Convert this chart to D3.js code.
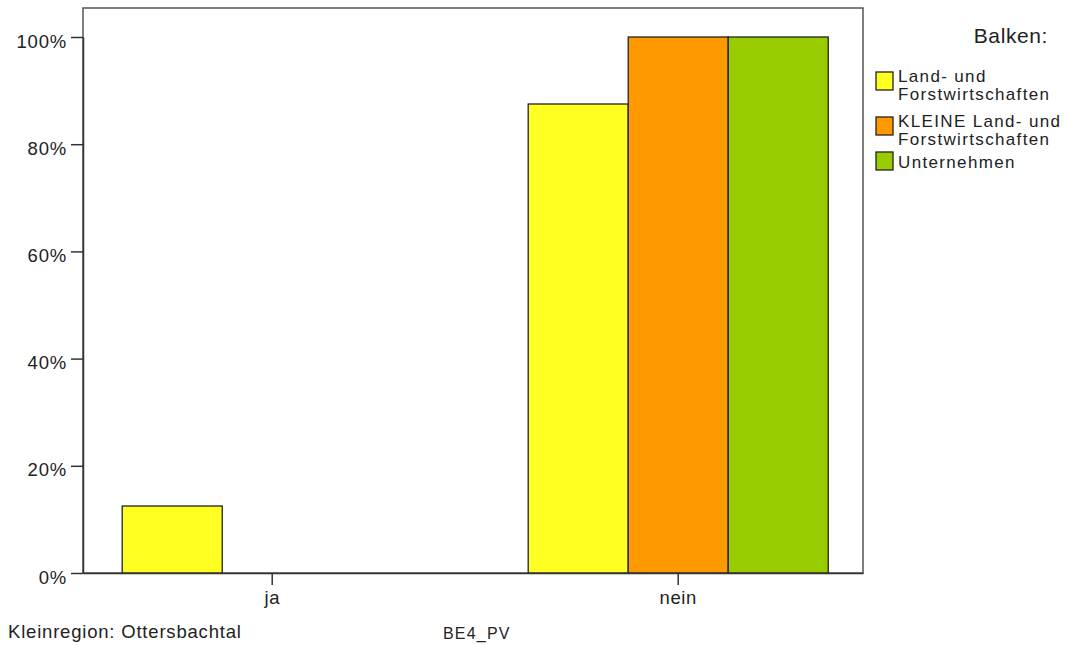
<!DOCTYPE html>
<html><head><meta charset="utf-8">
<script src="https://cdn.jsdelivr.net/npm/d3@7"></script>
<style>body{margin:0;background:#fff}svg{display:block;font-family:"Liberation Sans",Arial,sans-serif}</style>
</head><body><svg id="c" width="1067" height="645"></svg>
<script>
const categories = ["ja", "nein"];
const seriesNames = ["Land- und\nForstwirtschaften", "KLEINE Land- und\nForstwirtschaften", "Unternehmen"];
const seriesColors = ["#ffff22", "#ff9900", "#99cc00"];
const valuesLandForst = [12.5, 87.5];
const valuesKleine = [0, 100];
const valuesUnternehmen = [0, 100];
const yTicks = [0, 20, 40, 60, 80, 100];
const series = [valuesLandForst, valuesKleine, valuesUnternehmen];

const svg = d3.select("#c");
const L = 83, R = 863, T = 8, B = 573;
const y = d3.scaleLinear().domain([0, 100]).range([B, 37]);
const x = d3.scaleBand().domain(categories).range([L, R]).paddingInner(0.261).paddingOuter(0.0911).align(0.53);
const xs = d3.scaleBand().domain(d3.range(series.length)).range([0, x.bandwidth()]);

// frame
svg.append("rect").attr("x", L).attr("y", T).attr("width", R - L).attr("height", B - T)
  .attr("fill", "none").attr("stroke", "#555").attr("stroke-width", 1.5);

// bars
categories.forEach((c, ci) => {
  series.forEach((s, si) => {
    svg.append("rect")
      .attr("x", x(c) + xs(si)).attr("width", xs.bandwidth())
      .attr("y", y(s[ci])).attr("height", y(0) - y(s[ci]))
      .attr("fill", seriesColors[si]).attr("stroke", "#222").attr("stroke-width", 1.3);
  });
});

const FONT = "Liberation Sans, Arial, sans-serif";
// y axis
const yAxis = d3.axisLeft(y).tickValues(yTicks).tickFormat(d => d + "%").tickSize(12).tickSizeOuter(0).tickPadding(4);
const ya = svg.append("g").attr("transform", `translate(${L},0)`).call(yAxis);
ya.select(".domain").attr("stroke", "#333").attr("stroke-width", 1.5);
ya.selectAll(".tick line").attr("stroke", "#333").attr("stroke-width", 1.5);
ya.selectAll(".tick text").attr("font-size", 18.5).attr("fill", "#222").attr("dy", "0.55em")
  .attr("font-family", FONT).attr("letter-spacing", 0.8);

// x axis
const xAxis = d3.axisBottom(x).tickSize(12).tickSizeOuter(0).tickPadding(6);
const xa = svg.append("g").attr("transform", `translate(0,${B})`).call(xAxis);
xa.select(".domain").attr("stroke", "#333").attr("stroke-width", 1.5);
xa.selectAll(".tick line").attr("stroke", "#333").attr("stroke-width", 1.5);
xa.selectAll(".tick text").attr("font-size", 18.5).attr("fill", "#222")
  .attr("font-family", FONT).attr("letter-spacing", 0.6);

// footers
svg.append("text").attr("x", 8).attr("y", 638).attr("font-size", 18.5).attr("fill", "#222")
  .attr("letter-spacing", 0.8).text("Kleinregion: Ottersbachtal");
svg.append("text").attr("x", 443).attr("y", 639).attr("font-size", 16).attr("fill", "#222")
  .attr("letter-spacing", 1.2).text("BE4_PV");

// legend
svg.append("text").attr("x", 1048).attr("y", 43).attr("text-anchor", "end").attr("font-size", 21)
  .attr("fill", "#222").attr("letter-spacing", 0.6).text("Balken:");
const swY = [72, 117, 152];
seriesNames.forEach((n, i) => {
  svg.append("rect").attr("x", 876).attr("y", swY[i]).attr("width", 17).attr("height", 18)
    .attr("fill", seriesColors[i]).attr("stroke", "#222").attr("stroke-width", 1.3);
  const lines = n.split("\n");
  const t = svg.append("text").attr("font-size", 17).attr("fill", "#222").attr("letter-spacing", 1.35);
  const baseY = lines.length === 2 ? swY[i] + 9.5 : swY[i] + 16;
  lines.forEach((ln, li) => {
    t.append("tspan").attr("x", 898).attr("y", baseY + li * 18.5).text(ln);
  });
});
</script></body></html>
